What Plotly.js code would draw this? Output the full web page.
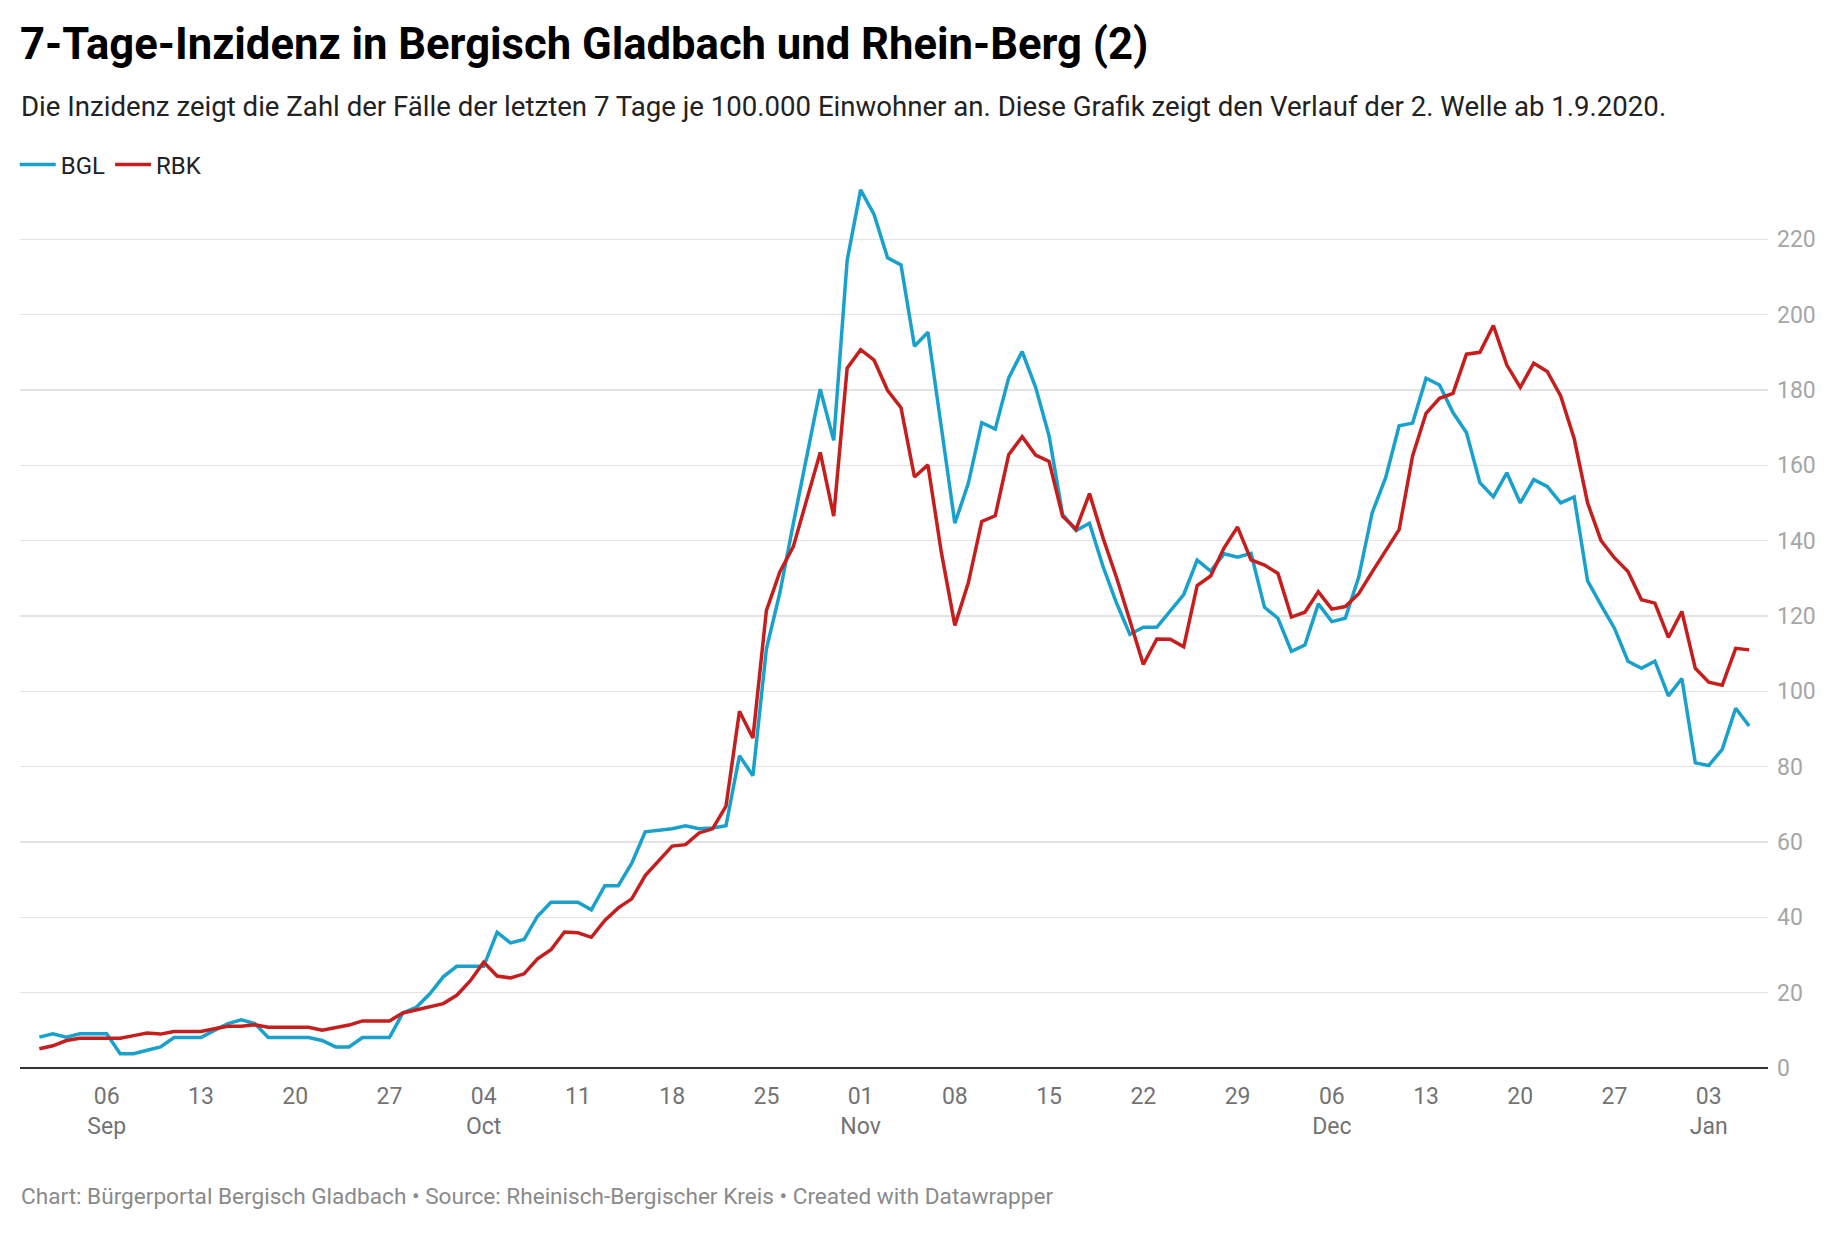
<!DOCTYPE html>
<html>
<head>
<meta charset="utf-8">
<script src="https://cdn.plot.ly/plotly-3.0.1.min.js"></script>
<style>
  html, body { margin: 0; padding: 0; background: #fff; }
  #chart { width: 1840px; height: 1240px; }
</style>
</head>
<body>
<div id="chart"></div>
<script>
const dates = [
  '2020-09-01','2020-09-02','2020-09-03','2020-09-04','2020-09-05','2020-09-06','2020-09-07','2020-09-08','2020-09-09','2020-09-10',
  '2020-09-11','2020-09-12','2020-09-13','2020-09-14','2020-09-15','2020-09-16','2020-09-17','2020-09-18','2020-09-19','2020-09-20',
  '2020-09-21','2020-09-22','2020-09-23','2020-09-24','2020-09-25','2020-09-26','2020-09-27','2020-09-28','2020-09-29','2020-09-30',
  '2020-10-01','2020-10-02','2020-10-03','2020-10-04','2020-10-05','2020-10-06','2020-10-07','2020-10-08','2020-10-09','2020-10-10',
  '2020-10-11','2020-10-12','2020-10-13','2020-10-14','2020-10-15','2020-10-16','2020-10-17','2020-10-18','2020-10-19','2020-10-20',
  '2020-10-21','2020-10-22','2020-10-23','2020-10-24','2020-10-25','2020-10-26','2020-10-27','2020-10-28','2020-10-29','2020-10-30',
  '2020-10-31','2020-11-01','2020-11-02','2020-11-03','2020-11-04','2020-11-05','2020-11-06','2020-11-07','2020-11-08','2020-11-09',
  '2020-11-10','2020-11-11','2020-11-12','2020-11-13','2020-11-14','2020-11-15','2020-11-16','2020-11-17','2020-11-18','2020-11-19',
  '2020-11-20','2020-11-21','2020-11-22','2020-11-23','2020-11-24','2020-11-25','2020-11-26','2020-11-27','2020-11-28','2020-11-29',
  '2020-11-30','2020-12-01','2020-12-02','2020-12-03','2020-12-04','2020-12-05','2020-12-06','2020-12-07','2020-12-08','2020-12-09',
  '2020-12-10','2020-12-11','2020-12-12','2020-12-13','2020-12-14','2020-12-15','2020-12-16','2020-12-17','2020-12-18','2020-12-19',
  '2020-12-20','2020-12-21','2020-12-22','2020-12-23','2020-12-24','2020-12-25','2020-12-26','2020-12-27','2020-12-28','2020-12-29',
  '2020-12-30','2020-12-31','2021-01-01','2021-01-02','2021-01-03','2021-01-04','2021-01-05','2021-01-06'
];

const bgl = [
  8.2, 9.1, 8.2, 9.1, 9.1, 9.1, 3.8, 3.8, 4.7, 5.6,
  8.1, 8.1, 8.1, 10.0, 11.8, 12.8, 11.8, 8.1, 8.1, 8.1,
  8.1, 7.3, 5.6, 5.6, 8.1, 8.1, 8.1, 14.6, 16.1, 19.7,
  24.2, 27.0, 27.0, 27.0, 36.0, 33.2, 34.1, 40.3, 44.0, 44.0,
  44.0, 42.0, 48.4, 48.4, 54.4, 62.7, 63.1, 63.5, 64.3, 63.5,
  63.7, 64.3, 82.9, 77.6, 111.2, 126.1, 144.5, 161.8, 180.2, 166.6,
  214.4, 233.1, 226.6, 215.1, 213.2, 191.6, 195.3, 170.0, 144.6, 155.2,
  171.3, 169.6, 183.2, 190.2, 180.7, 167.8, 147.0, 142.7, 144.6, 133.2,
  123.5, 115.1, 117.0, 117.0, 121.5, 125.7, 134.8, 131.9, 136.5, 135.6,
  136.6, 122.3, 119.4, 110.6, 112.3, 123.2, 118.5, 119.4, 130.3, 147.4,
  156.7, 170.5, 171.2, 183.1, 181.3, 174.0, 168.7, 155.4, 151.6, 158.0,
  150.0, 156.2, 154.4, 150.0, 151.6, 129.3, 122.9, 116.7, 108.0, 106.1,
  108.0, 98.8, 103.4, 81.0, 80.3, 84.6, 95.5, 90.8
];

const rbk = [
  5.1, 5.9, 7.3, 7.9, 7.9, 7.9, 7.9, 8.6, 9.3, 9.0,
  9.7, 9.7, 9.7, 10.4, 11.1, 11.1, 11.5, 10.8, 10.8, 10.8,
  10.8, 10.0, 10.6, 11.4, 12.5, 12.5, 12.5, 14.6, 15.5, 16.4,
  17.1, 19.3, 23.1, 28.1, 24.4, 23.9, 25.0, 29.0, 31.4, 36.1,
  35.9, 34.7, 39.2, 42.5, 44.9, 51.1, 55.1, 58.9, 59.3, 62.4,
  63.5, 69.5, 94.7, 87.6, 121.4, 131.7, 138.4, 150.6, 163.4, 146.5,
  185.8, 190.7, 187.9, 179.9, 175.3, 156.9, 160.1, 136.8, 117.5, 128.8,
  145.1, 146.6, 162.8, 167.6, 162.7, 161.0, 146.5, 143.0, 152.5, 140.8,
  130.3, 118.8, 107.1, 113.9, 113.8, 111.8, 128.1, 130.6, 138.1, 143.6,
  134.9, 133.5, 131.3, 119.7, 121.0, 126.4, 121.8, 122.5, 125.9, 131.7,
  137.2, 142.9, 162.5, 173.8, 177.8, 179.1, 189.5, 190.0, 197.1, 186.6,
  180.7, 187.1, 184.9, 178.4, 167.1, 150.0, 140.0, 135.4, 131.8, 124.3,
  123.4, 114.3, 121.2, 106.1, 102.4, 101.6, 111.4, 111.0
];

const seriesNames = ['BGL', 'RBK'];

const xTickVals = [
  '2020-09-06','2020-09-13','2020-09-20','2020-09-27',
  '2020-10-04','2020-10-11','2020-10-18','2020-10-25',
  '2020-11-01','2020-11-08','2020-11-15','2020-11-22','2020-11-29',
  '2020-12-06','2020-12-13','2020-12-20','2020-12-27',
  '2021-01-03'
];
const xTickText = [
  '06<br>Sep','13','20','27',
  '04<br>Oct','11','18','25',
  '01<br>Nov','08','15','22','29',
  '06<br>Dec','13','20','27',
  '03<br>Jan'
];
const yTickVals = [0, 20, 40, 60, 80, 100, 120, 140, 160, 180, 200, 220];

const titleText = '7-Tage-Inzidenz in Bergisch Gladbach und Rhein-Berg (2)';
const subtitleText = 'Die Inzidenz zeigt die Zahl der Fälle der letzten 7 Tage je 100.000 Einwohner an. Diese Grafik zeigt den Verlauf der 2. Welle ab 1.9.2020.';
const footerText = 'Chart: Bürgerportal Bergisch Gladbach • Source: Rheinisch-Bergischer Kreis • Created with Datawrapper';

const W = 1840, H = 1240;
const M = { l: 20, r: 72, t: 179, b: 172 };
const plotH = H - M.t - M.b;
const py = (pix) => (H - M.b - pix) / plotH; // pixel y -> paper y

const traces = [
  { x: dates, y: bgl, name: seriesNames[0], type: 'scatter', mode: 'lines',
    line: { color: '#18a1cd', width: 3.5 }, hoverinfo: 'skip' },
  { x: dates, y: rbk, name: seriesNames[1], type: 'scatter', mode: 'lines',
    line: { color: '#c71e1d', width: 3.5 }, hoverinfo: 'skip' }
];

const layout = {
  width: W, height: H,
  margin: M,
  paper_bgcolor: '#ffffff',
  plot_bgcolor: '#ffffff',
  font: { family: 'Roboto, "Noto Sans", sans-serif', color: '#333' },
  title: {
    text: titleText,
    xref: 'container', yref: 'container',
    x: 20 / W, xanchor: 'left',
    y: 1 - 43.5 / H, yanchor: 'middle',
    font: { family: 'Roboto, sans-serif', size: 43.6, weight: 700, color: '#000' }
  },
  showlegend: true,
  legend: {
    orientation: 'h',
    x: -0.003, xanchor: 'left',
    y: py(165), yanchor: 'middle',
    font: { family: 'Roboto, sans-serif', size: 24, color: '#222' },
    itemwidth: 36,
    bgcolor: 'rgba(0,0,0,0)'
  },
  xaxis: {
    type: 'date',
    range: ['2020-08-30 13:26', '2021-01-07 09:36'],
    tickmode: 'array',
    tickvals: xTickVals,
    ticktext: xTickText,
    showgrid: false,
    zeroline: false,
    showline: false,
    ticks: '',
    ticklabelstandoff: 12,
    tickfont: { family: 'Roboto, sans-serif', size: 23, color: '#737373' }
  },
  yaxis: {
    side: 'right',
    range: [0, 236],
    tickmode: 'array',
    tickvals: yTickVals,
    showgrid: true,
    gridcolor: '#e3e3e3',
    gridwidth: 1.5,
    zeroline: true,
    zerolinecolor: '#333333',
    zerolinewidth: 2.2,
    showline: false,
    ticks: '',
    ticklabelstandoff: 8,
    tickfont: { family: 'Roboto, sans-serif', size: 23, color: '#a6a6a6' }
  },
  annotations: [
    { text: subtitleText, xref: 'paper', yref: 'paper', x: 0, xanchor: 'left',
      y: py(106.7), yanchor: 'middle', showarrow: false, borderpad: 0,
      font: { family: 'Roboto, sans-serif', size: 27.6, color: '#222' } },
    { text: footerText, xref: 'paper', yref: 'paper', x: 0, xanchor: 'left',
      y: py(1196), yanchor: 'middle', showarrow: false, borderpad: 0,
      font: { family: 'Roboto, sans-serif', size: 22.6, color: '#8a8a8a' } }
  ]
};

Plotly.newPlot('chart', traces, layout, { displayModeBar: false, staticPlot: true });
</script>
</body>
</html>
